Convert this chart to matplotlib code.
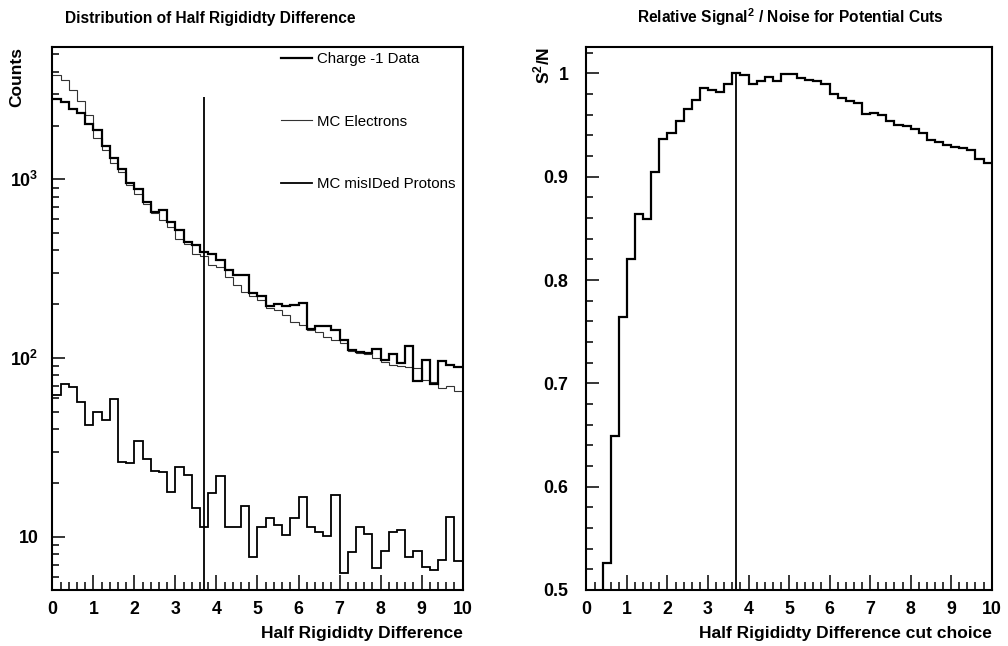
import numpy as np
import matplotlib
matplotlib.use("Agg")
import matplotlib.pyplot as plt
from matplotlib.lines import Line2D
from matplotlib.ticker import MultipleLocator, LogLocator, FixedLocator, FuncFormatter, NullFormatter

plt.rcParams['font.family'] = ['Liberation Sans', 'DejaVu Sans']
plt.rcParams['mathtext.fontset'] = 'custom'
plt.rcParams['mathtext.rm'] = 'Liberation Sans'
plt.rcParams['mathtext.bf'] = 'Liberation Sans:bold'

# 50 bins of width 0.2 over 0..10
bin_edges = np.linspace(0, 10, 51)

charge_m1_data = [2825, 2705, 2485, 2346, 2028, 1896, 1528, 1321, 1148, 953,
                  887, 746, 656, 671, 577, 519, 447, 428, 393, 384,
                  353, 313, 291, 291, 232, 222, 195, 200, 195, 198,
                  204, 146, 151, 151, 143, 126, 111, 108, 107, 113,
                  97.5, 106, 94, 117, 74.5, 98, 72, 96, 91, 89.5]
mc_electrons = [3845, 3605, 3170, 2730, 2280, 1710, 1465, 1233, 1098, 934,
                832, 731, 648, 590, 541, 466, 434, 384, 372, 331,
                322, 285, 256, 234, 224, 211, 191, 185, 174, 160,
                153, 143, 140, 131, 127, 121, 110, 107, 106, 99.6,
                95.4, 91.4, 90.2, 89.5, 88.3, 75.4, 73.6, 67.8, 70, 65.6]
mc_protons = [62.1, 71.3, 69.2, 56.5, 42.3, 50.1, 45.1, 58.8, 26.4, 25.8,
              34.5, 27.2, 23.5, 23.2, 17.9, 24.5, 22.2, 14.5, 11.3, 17.5,
              21.9, 11.3, 11.3, 14.8, 7.76, 11.4, 12.7, 11.7, 10.3, 12.7,
              16.8, 11.4, 10.6, 10.1, 17.2, 6.27, 8.28, 11.4, 10.4, 6.68,
              8.38, 10.6, 10.9, 7.70, 8.38, 6.77, 6.5, 7.44, 13.0, 7.37]

s2n = [0.35, 0.45, 0.526, 0.649, 0.764, 0.8205, 0.864, 0.859, 0.905, 0.937,
       0.942, 0.954, 0.966, 0.974, 0.986, 0.984, 0.982, 0.9896, 1.0, 0.9986,
       0.9896, 0.993, 0.997, 0.993, 0.9992, 0.9992, 0.996, 0.9937, 0.9928, 0.9896,
       0.980, 0.976, 0.9734, 0.971, 0.961, 0.962, 0.960, 0.954, 0.950, 0.949,
       0.9464, 0.942, 0.936, 0.934, 0.931, 0.929, 0.928, 0.926, 0.917, 0.913]

cut_value = 3.7
cut_line_top = 2900

fig = plt.figure(figsize=(10.08, 6.46), dpi=100)
ax1 = fig.add_axes([0.0519, 0.0867, 0.4071, 0.8406])
ax2 = fig.add_axes([0.5818, 0.0867, 0.4020, 0.8406])

def style_axis(ax):
  for sp in ax.spines.values():
    sp.set_linewidth(1.5)
  ax.tick_params(which='both', direction='in', top=False, right=False, width=1.1)
  ax.tick_params(axis='x', which='major', length=11, pad=8, labelsize=12.8)
  ax.tick_params(axis='x', which='minor', length=5.8)
  ax.tick_params(axis='y', which='major', length=9.4, labelsize=12.8)
  ax.tick_params(axis='y', which='minor', length=4.7)
  ax.xaxis.set_major_locator(MultipleLocator(1))
  ax.xaxis.set_minor_locator(MultipleLocator(0.2))
  ax.set_xlim(0, 10)

def bold_ticks(ax):
  for lab in ax.get_xticklabels() + ax.get_yticklabels():
    lab.set_fontweight('bold')

# left: distributions
ax1.set_yscale('log')
ax1.stairs(mc_electrons, bin_edges, baseline=None, color='#333333', lw=0.8)
ax1.stairs(charge_m1_data, bin_edges, baseline=None, color='black', lw=1.6)
ax1.stairs(mc_protons, bin_edges, baseline=None, color='black', lw=1.3)
ax1.vlines(cut_value, 5.05, cut_line_top, color='black', lw=1.3)
ax1.set_ylim(5.05, 5500)
style_axis(ax1)
ax1.yaxis.set_major_locator(FixedLocator([10, 100, 1000]))
ax1.yaxis.set_minor_locator(LogLocator(base=10, subs=np.arange(2, 10)))
ax1.yaxis.set_minor_formatter(NullFormatter())
def log_label(v, pos):
  if v == 10:
    return '10'
  return r'$\mathbf{10^{%d}}$' % round(np.log10(v))
ax1.yaxis.set_major_formatter(FuncFormatter(log_label))
ax1.tick_params(axis='y', which='major', pad=10)
bold_ticks(ax1)

ax1.set_xlabel('Half Rigididty Difference', loc='right', fontsize=12.5,
               fontweight='bold', labelpad=6)
ax1.set_ylabel('Counts', loc='top', fontsize=12.5, fontweight='bold')
ax1.yaxis.set_label_coords(-0.069, 1.0)

handles = [Line2D([], [], color='black', lw=1.6),
           Line2D([], [], color='#333333', lw=0.8),
           Line2D([], [], color='black', lw=1.3)]
ax1.legend(handles, ['Charge -1 Data', 'MC Electrons', 'MC misIDed Protons'],
           loc='upper left', bbox_to_anchor=(0.557, 0.991), frameon=False,
           fontsize=10.8, labelspacing=3.25, handlelength=2.07,
           handletextpad=0.35, borderpad=0, borderaxespad=0)

# right: relative S^2/N
ax2.stairs(s2n, bin_edges, baseline=None, color='black', lw=1.6)
ax2.vlines(cut_value, 0.5, 1.0, color='black', lw=1.3)
ax2.set_ylim(0.5, 1.0256)
style_axis(ax2)
ax2.yaxis.set_major_locator(MultipleLocator(0.1))
ax2.yaxis.set_minor_locator(MultipleLocator(0.02))
ax2.yaxis.set_major_formatter(FuncFormatter(lambda v, p: '%g' % round(v, 2)))
ax2.tick_params(axis='y', which='major', pad=13)
bold_ticks(ax2)
ax2.set_xlabel('Half Rigididty Difference cut choice', loc='right', fontsize=12.5,
               fontweight='bold', labelpad=6)
ax2.set_ylabel(r'S$^{\mathbf{2}}$/N', loc='top', fontsize=12.5, fontweight='bold')
ax2.yaxis.set_label_coords(-0.085, 1.0)

fig.text(65 / 1008, 1 - 23 / 646, 'Distribution of Half Rigididty Difference',
         fontsize=11.2, fontweight='bold', ha='left', va='baseline')
fig.text(637 / 1008, 1 - 23 / 646, r'Relative Signal$^{\mathbf{2}}$ / Noise for Potential Cuts',
         fontsize=11.2, fontweight='bold', ha='left', va='baseline')

fig.savefig('out.png', dpi=100)
